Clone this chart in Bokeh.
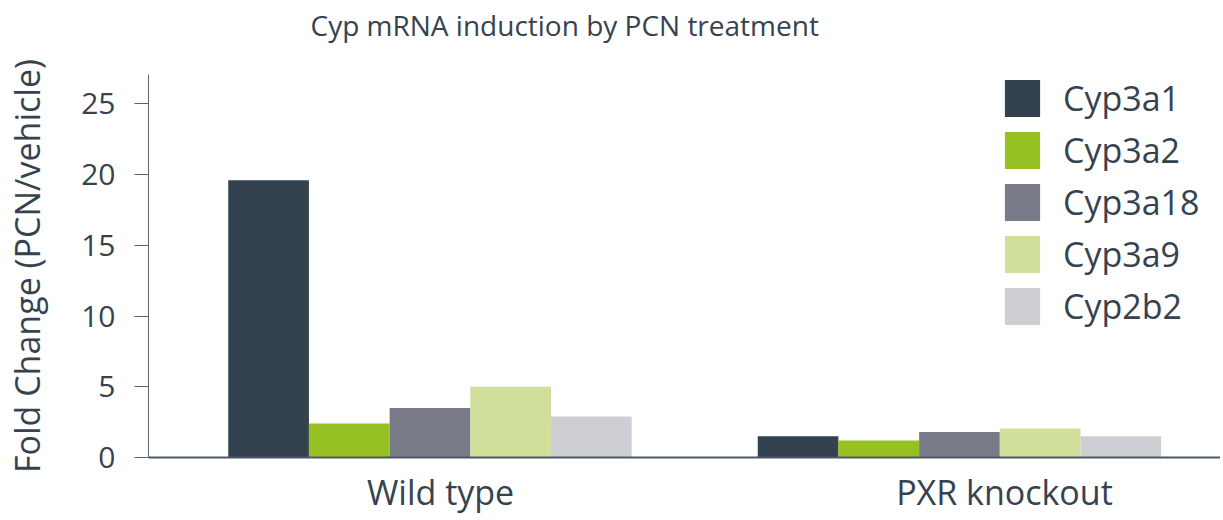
from bokeh.plotting import figure
from bokeh.models import ColumnDataSource, FixedTicker, Range1d, Legend, LegendItem, Title
from bokeh.transform import dodge
from bokeh.embed import file_html
from bokeh.resources import INLINE

groups = ["Wild type", "PXR knockout"]
series = ["Cyp3a1", "Cyp3a2", "Cyp3a18", "Cyp3a9", "Cyp2b2"]
cyp3a1 = [19.6, 1.5]
cyp3a2 = [2.4, 1.2]
cyp3a18 = [3.5, 1.8]
cyp3a9 = [5.0, 2.05]
cyp2b2 = [2.9, 1.5]
colors = ["#34424f", "#97c122", "#797b88", "#d0e09b", "#cfced4"]
y_ticks = [0, 5, 10, 15, 20, 25]

values = [cyp3a1, cyp3a2, cyp3a18, cyp3a9, cyp2b2]
FONT = "Open Sans"
TXT = "#36434f"
bar_w = 0.1524

p = figure(width=1220, height=517, output_backend="svg", toolbar_location=None,
           x_range=Range1d(-0.5316, 1.493), y_range=Range1d(0, 27.07),
           min_border_left=148, min_border_right=0, min_border_top=74, min_border_bottom=10)
p.outline_line_color = None
p.xgrid.visible = False
p.ygrid.visible = False

src = ColumnDataSource(dict(x=list(range(len(groups))),
                            **{s: v for s, v in zip(series, values)}))
items = []
for k, (s, c) in enumerate(zip(series, colors)):
    r = p.vbar(x=dodge("x", (k - 2) * bar_w, range=None), top=s, width=bar_w,
               source=src, fill_color=c, line_color=None)
    items.append(LegendItem(label=s, renderers=[r]))

legend = Legend(items=items, location=(852, 128), padding=0, margin=0,
                glyph_width=44, glyph_height=46, spacing=6, label_standoff=19,
                label_height=44,
                label_text_font=FONT, label_text_font_size="34px",
                label_text_color=TXT, border_line_color=None,
                background_fill_alpha=0)
p.add_layout(legend)

# x axis
label_shift = [0.02, 0.085]
xt = [i + label_shift[i] for i in range(len(groups))]
p.xaxis.ticker = FixedTicker(ticks=xt)
p.xaxis.major_label_overrides = {t: g for t, g in zip(xt, groups)}
p.xaxis.major_tick_line_color = None
p.xaxis.minor_tick_line_color = None
p.xaxis.axis_line_color = "#4d5866"
p.xaxis.axis_line_width = 2
p.xaxis.major_label_text_font = FONT
p.xaxis.major_label_text_font_size = "34px"
p.xaxis.major_label_text_color = TXT
p.xaxis.major_label_standoff = 5

# y axis
p.yaxis.ticker = FixedTicker(ticks=y_ticks)
p.yaxis.minor_tick_line_color = None
p.yaxis.axis_line_color = "#5a6470"
p.yaxis.major_tick_line_color = "#5a6470"
p.yaxis.major_tick_out = 14
p.yaxis.major_tick_in = 0
p.yaxis.major_label_text_font = FONT
p.yaxis.major_label_text_font_size = "30px"
p.yaxis.major_label_text_color = TXT
p.yaxis.major_label_standoff = 19
p.yaxis.axis_label = "Fold Change (PCN/vehicle)"
p.yaxis.axis_label_text_font = FONT
p.yaxis.axis_label_text_font_size = "34px"
p.yaxis.axis_label_text_font_style = "normal"
p.yaxis.axis_label_text_color = TXT
p.yaxis.axis_label_standoff = 28

p.title.text = "Cyp mRNA induction by PCN treatment"
p.title.text_font = FONT
p.title.text_font_size = "28px"
p.title.text_font_style = "normal"
p.title.text_color = TXT
p.title.align = "left"
p.title.vertical_align = "bottom"
p.title.offset = 162
p.title.standoff = 0

# spacer between the title and the frame
p.add_layout(Title(text=" ", text_font_size="10px", standoff=18), "above")

open("out.html", "w").write(file_html(p, INLINE))
